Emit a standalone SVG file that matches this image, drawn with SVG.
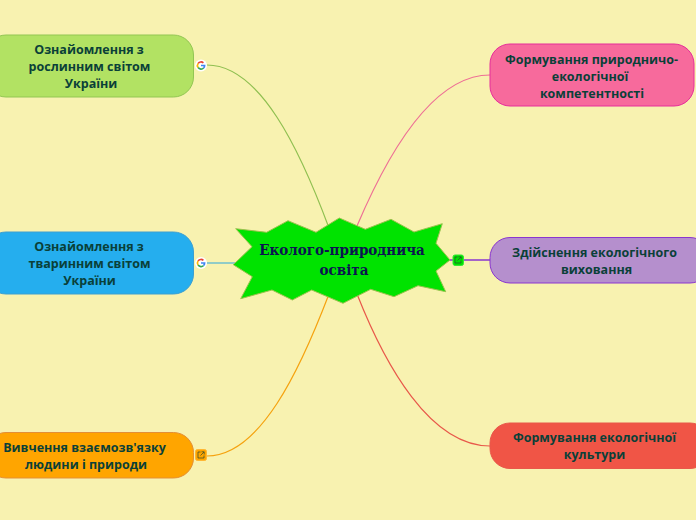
<svg xmlns="http://www.w3.org/2000/svg" width="696" height="520" viewBox="0 0 696 520">
<style>
.c{fill:none;stroke-width:1.2}
.t{font-family:"Open Sans","Noto Sans",sans-serif;font-weight:700;font-size:12.5px;fill:#0a4038;text-anchor:middle}
.m{font-family:"DejaVu Serif Condensed","DejaVu Serif",serif;font-stretch:condensed;font-weight:700;font-size:15px;fill:#0c1450;text-anchor:middle}
.n{stroke-width:1}
.ib{stroke-width:1;rx:2}
.g{fill:none;stroke-width:1.7}
.l{fill:none;stroke:#2a4a30;stroke-width:.7}
</style>
<defs>
<g id="goog">
<circle r="6" fill="#fff"/>
<path class="g" stroke="#ea4335" d="M2.400-2.600A3.600 3.600 0 0 0-2.900-2.100"/>
<path class="g" stroke="#fbbc05" d="M-2.900-2.100A3.600 3.600 0 0 0-2.900 2.100"/>
<path class="g" stroke="#34a853" d="M-2.900 2.100A3.600 3.600 0 0 0 2.600 2.500"/>
<path class="g" stroke="#4285f4" d="M2.600 2.500A3.600 3.600 0 0 0 3.600 0H0"/>
</g>
<g id="link">
<path class="l" d="M-.5-3H-3V3H3V.5M.5-3.200H3.200V-.5M3-3L-.5.5"/>
</g>
</defs>
<rect width="696" height="520" fill="#f8f2b0"/>
<g id="connectors">
<path class="c" stroke="#8fbf50" d="M207 65C260 65 300 150 329 228"/>
<path class="c" stroke="#6fbfcf" style="stroke-width:1.5" d="M207 263H238"/>
<path class="c" stroke="#f5a20f" d="M207 456C260 456 300 370 329 294"/>
<path class="c" stroke="#ee6f95" d="M490 75C430 75 385 160 357 226"/>
<path class="c" stroke="#8a35d0" style="stroke-width:1.500" d="M448 260H490"/>
<path class="c" stroke="#e8584a" d="M490 446C430 446 385 365 357 294"/>
</g>
<g id="node-plants">
<rect class="n" x="-14" y="35" width="207.500" height="62" rx="20" fill="#b2e263" stroke="#93c653"/>
<text class="t"><tspan x="89" y="54">Ознайомлення з</tspan><tspan x="89.500" y="71">рослинним світом</tspan><tspan x="91" y="88">України</tspan></text>
<use href="#goog" x="201" y="65.500"/>
</g>
<g id="node-animals">
<rect class="n" x="-14" y="232" width="207.500" height="62" rx="20" fill="#25aeee" stroke="#3d9fd0"/>
<text class="t"><tspan x="89" y="251">Ознайомлення з</tspan><tspan x="89.500" y="268">тваринним світом</tspan><tspan x="89.500" y="285">України</tspan></text>
<use href="#goog" x="201" y="263"/>
</g>
<g id="node-relation">
<rect class="n" x="-14" y="432.500" width="207.500" height="45.500" rx="20" fill="#ffa500" stroke="#e38f36"/>
<text class="t"><tspan x="84.500" y="452">Вивчення взаємозв'язку</tspan><tspan x="86" y="469">людини і природи</tspan></text>
<rect class="ib" x="195.500" y="449.500" width="11" height="11" fill="#ffa500" stroke="#ffb733"/>
<use href="#link" x="201" y="455"/>
</g>
<g id="node-central">
<polygon points="235.700,228.700 266.700,232.300 288,220.700 316,232.300 339.300,218 365.300,229.300 391,219.300 414,232 442.300,223.700 436,243.300 450,260 436,271 445.700,291.700 418,285.700 394,296.700 370.700,289.300 343,303.300 311.700,290 292.300,300 272,290 240.700,298.700 252.300,276.700 233.300,264.700 252,246.700" fill="#00e300" stroke="#9cc24e"/>
<text class="m"><tspan x="342" y="255">Еколого-природнича</tspan><tspan x="344" y="275">освіта</tspan></text>
<rect class="ib" x="453" y="255" width="10.500" height="10.500" fill="#00e300" stroke="#33e833"/>
<use href="#link" x="458" y="260"/>
</g>
<g id="node-competence">
<rect class="n" x="490" y="44" width="204" height="62" rx="20" fill="#f76a9c" stroke="#e62e9a"/>
<text class="t"><tspan x="591.500" y="64">Формування природничо-</tspan><tspan x="590" y="81">екологічної</tspan><tspan x="592" y="98">компетентності</tspan></text>
</g>
<g id="node-upbringing">
<rect class="n" x="490" y="237.500" width="220" height="45.500" rx="20" fill="#b58fcd" stroke="#8a35d0"/>
<text class="t"><tspan x="594.500" y="257">Здійснення екологічного</tspan><tspan x="596.500" y="274">виховання</tspan></text>
</g>
<g id="node-culture">
<rect class="n" x="490" y="423" width="220" height="45.500" rx="20" fill="#f05546" stroke="#e8584a"/>
<text class="t"><tspan x="594.500" y="442">Формування екологічної</tspan><tspan x="594.500" y="459">культури</tspan></text>
</g>
</svg>
